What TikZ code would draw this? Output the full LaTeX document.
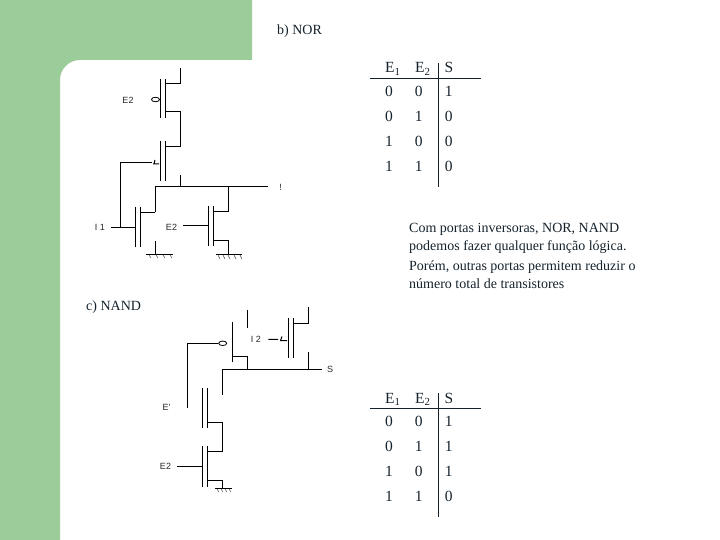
\documentclass[tikz,border=0pt]{standalone}
\usepackage{fontspec}
\usetikzlibrary{shapes.geometric}
\setmainfont{Liberation Serif}
\newfontfamily\labsans{Liberation Sans}
\definecolor{panelgreen}{HTML}{9CCC9A}
\definecolor{inkdark}{HTML}{15222C}
\tikzset{
  wire/.style={line width=1pt,black},
  rule/.style={line width=1.1pt,inkdark},
  tbl/.style={inner sep=0,text=inkdark,font=\fontsize{15.5}{15.5}\selectfont,anchor=base},
  tblw/.style={tbl,anchor=base west},
  body/.style={inner sep=0,text=inkdark,font=\fontsize{14}{14}\selectfont,anchor=base west},
  lab/.style={inner sep=0,font=\labsans\fontsize{9}{9}\selectfont,text=black!85},
  bubble/.style={ellipse,draw=black,line width=0.8pt,inner sep=0,minimum width=8pt,minimum height=4.5pt},
  hatch/.style={line width=0.5pt,black!70}
}
\begin{document}
\begin{tikzpicture}[x=1pt,y=-1pt]
\useasboundingbox (0,0) rectangle (720,540);
\fill[panelgreen] (0,0) -- (252,0) -- (252,60) -- (80,60) .. controls (69,60) and (60,69) .. (60,80) -- (60,540) -- (0,540) -- cycle;
\node[body] (titleb) at (277,35) {b) NOR};
\node[body] (titlec) at (86,310.5) {c) NAND};
\node[body] (t1) at (409,232.5) {Com portas inversoras, NOR, NAND};
\node[body] (t2) at (409,251) {podemos fazer qualquer função lógica.};
\node[body] (t3) at (409,270) {Porém, outras portas permitem reduzir o};
\node[body] (t4) at (409,288) {número total de transistores};
% table b
\coordinate (bh1) at (370,78.3); \coordinate (bh2) at (481,78.3);
\coordinate (bv1) at (438.3,63); \coordinate (bv2) at (438.3,187);
\draw[rule] (bh1) -- (bh2); \draw[rule] (bv1) -- (bv2);
\node[tblw] (bE1) at (385,73) {E\textsubscript{1}};
\node[tblw] (bE2) at (415,73) {E\textsubscript{2}};
\node[tbl] (bS) at (449,73) {S};
\foreach \a/\b/\c/\y in {0/0/1/96.5,0/1/0/121.7,1/0/0/146.7,1/1/0/171.7}{
  \node[tbl] at (389,\y) {\a};
  \node[tbl] at (418.7,\y) {\b};
  \node[tbl] at (448.7,\y) {\c};
}
% table c
\coordinate (ch1) at (370,408.3); \coordinate (ch2) at (481,408.3);
\coordinate (cv1) at (438.3,393); \coordinate (cv2) at (438.3,517);
\draw[rule] (ch1) -- (ch2); \draw[rule] (cv1) -- (cv2);
\node[tblw] (cE1) at (385,403) {E\textsubscript{1}};
\node[tblw] (cE2) at (415,403) {E\textsubscript{2}};
\node[tbl] (cS) at (449,403) {S};
\foreach \a/\b/\c/\y in {0/0/1/426.7,0/1/1/451.7,1/0/1/476.7,1/1/0/501.7}{
  \node[tbl] at (389,\y) {\a};
  \node[tbl] at (418.7,\y) {\b};
  \node[tbl] at (448.7,\y) {\c};
}
% NOR circuit
\draw[wire] (160.3,79) -- (160.3,118);
\draw[wire] (165.3,79) -- (165.3,118);
\draw[wire] (180.3,68) -- (180.3,84) -- (165.3,84);
\draw[wire] (165.3,112) -- (180.3,112) -- (180.3,146.7) -- (165.3,146.7);
\node[bubble] (bn1) at (155.5,99.5) {};
\node[lab] (n1) at (128,100.5) {E2};
\draw[wire] (160.3,141) -- (160.3,181);
\draw[wire] (165.3,141) -- (165.3,181);
\draw[wire] (152,162.7) -- (120,162.7) -- (120,227.3);
\draw[wire] (153,164) -- (159,164) (155,160) -- (154,164);
\draw[wire] (180.3,175) -- (180.3,187);
\coordinate (nS) at (267.7,187);
\draw[wire] (155.3,212.3) -- (155.3,187) -- (nS);
\node[lab] (n2) at (280.5,187) {!};
\draw[wire] (135.3,206.7) -- (135.3,246.7);
\draw[wire] (140.3,206.7) -- (140.3,246.7);
\draw[wire] (140.3,212.3) -- (155.3,212.3);
\draw[wire] (111,227.3) -- (135.3,227.3);
\node[lab] (n3) at (100,227.5) {I 1};
\draw[wire] (155.3,241) -- (155.3,254);
\draw[wire] (146,254) -- (172.7,254);
\foreach \x in {149,156,163,170}{\draw[hatch] (\x,255) -- (\x+2,258);}
\draw[wire] (208.3,206) -- (208.3,246);
\draw[wire] (213.3,206) -- (213.3,246);
\draw[wire] (228.3,187) -- (228.3,211.7) -- (213.3,211.7);
\draw[wire] (213.3,240.3) -- (228.3,240.3) -- (228.3,254);
\draw[wire] (216,254) -- (242,254);
\foreach \x in {218,223,228,234,240}{\draw[hatch] (\x,255) -- (\x+2,259);}
\draw[wire] (183.3,225.7) -- (208.3,225.7);
\node[lab] (n4) at (171.5,227) {E2};
% NAND circuit
\draw[wire] (232.3,322.3) -- (232.3,361.7);
\draw[wire] (247.3,310) -- (247.3,328.3);
\draw[wire] (232.3,356.7) -- (247.3,356.7) -- (247.3,369.3);
\node[bubble] (bn2) at (222.7,343.3) {};
\draw[wire] (bn2) -- (187.3,343.3) -- (187.3,408.3);
\coordinate (cS0) at (321.7,369.3);
\draw[wire] (222.3,395) -- (222.3,369.3) -- (cS0);
\node[lab] (n5) at (330,369) {S};
\draw[wire] (288.3,318.3) -- (288.3,357.7);
\draw[wire] (293.3,318.3) -- (293.3,357.7);
\draw[wire] (308.3,306.7) -- (308.3,323.3) -- (293.3,323.3);
\draw[wire] (308.3,351.7) -- (308.3,369.3);
\draw[wire] (268.3,339.3) -- (278,339.3) (280,340.5) -- (287,340.5) (282,336.5) -- (280.5,340.5);
\node[lab] (n6) at (256,339.5) {I 2};
\draw[wire] (202.3,388.3) -- (202.3,428.3);
\draw[wire] (207.3,388.3) -- (207.3,428.3);
\draw[wire] (207.3,422.3) -- (222.3,422.3) -- (222.3,451.7) -- (207.3,451.7);
\node[lab] (n7) at (166.5,407.5) {E'};
\draw[wire] (202.3,446) -- (202.3,486.7);
\draw[wire] (207.3,446) -- (207.3,486.7);
\draw[wire] (207.3,480.3) -- (222.3,480.3) -- (222.3,488.3);
\draw[wire] (215,488.3) -- (231.7,488.3);
\foreach \x in {217,221,225,229}{\draw[hatch] (\x,489) -- (\x+2,492);}
\draw[wire] (176.7,466) -- (202.3,466);
\node[lab] (n8) at (165.5,466) {E2};
\end{tikzpicture}
\end{document}
